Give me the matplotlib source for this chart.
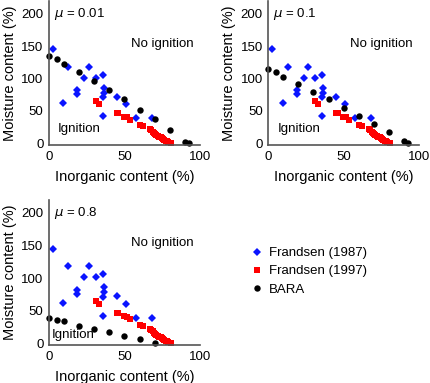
import numpy as np
import matplotlib
matplotlib.use('Agg')
import matplotlib.pyplot as plt

plt.rcParams['font.family'] = ['Liberation Sans', 'DejaVu Sans']

# Frandsen (1987) - same in every panel
f87_x = [2.4, 12.8, 26.5, 23.4, 31.3, 35.5, 18.8, 18.8, 36.4, 36.6, 35.8, 9.5, 45.3, 51.0, 35.8, 57.4, 68.4]
f87_y = [145, 118, 118, 101, 101, 106, 82, 76, 86, 78, 71, 62, 72, 60, 42, 38.5, 39]

# Frandsen (1997) - same in every panel
f97_x = [30.9, 32.9, 44.8, 46.0, 49.7, 51.7, 53.4, 60.3, 62.0, 66.9, 67.8, 68.7, 69.5, 70.2, 71.0,
         72.0, 73.0, 74.2, 75.0, 75.7, 76.5, 77.3, 78.2, 79.0, 80.6]
f97_y = [65, 60.5, 47, 47, 41, 40, 36.4, 28, 27, 22, 20, 18, 16, 14, 12.5,
         11, 10, 9, 7.5, 6, 5, 4, 2.8, 1.5, 0]

# BARA model, one curve per mu
mus = ['0.01', '0.1', '0.8']
bara_x = [
    [0, 5, 10, 20, 30, 40, 50, 60, 70, 80, 90, 93],
    [0, 5, 10, 20, 30, 40, 50, 60, 70, 80, 90, 93],
    [0, 5, 10, 20, 30, 40, 50, 60, 70],
]
bara_y = [
    [135, 130, 123, 110, 96, 82, 68, 52, 37.5, 20.5, 2.5, 0],
    [114, 110, 102.5, 91, 79.5, 68, 55, 42.5, 29.7, 17, 3.6, 0],
    [39, 36, 33.6, 27, 22, 17, 11, 5.6, 0.5],
]
ign_y = [22, 22, 13]

fig = plt.figure(figsize=(4.3, 3.83), dpi=100)
rects = [
    [0.114, 0.621, 0.351, 0.377],
    [0.624, 0.621, 0.350, 0.377],
    [0.114, 0.099, 0.351, 0.379],
]

handles = []
for i, r in enumerate(rects):
    ax = fig.add_axes(r)
    h1, = ax.plot(f87_x, f87_y, 'D', color='#0a14ff', ms=4.2, mew=0, clip_on=False)
    h2, = ax.plot(f97_x, f97_y, 's', color='#ff0000', ms=4.6, mew=0, clip_on=False)
    h3, = ax.plot(bara_x[i], bara_y[i], 'o', color='black', ms=4.6, mew=0, clip_on=False)
    handles = [h1, h2, h3]
    ax.set_xlim(0, 100)
    ax.set_ylim(-3, 220)
    ax.set_xticks([0, 50, 100])
    ax.set_yticks([0, 50, 100, 150, 200])
    ax.tick_params(length=0, labelsize=9.5, pad=4)
    for s in ['top', 'right']:
        ax.spines[s].set_visible(False)
    for s in ['left', 'bottom']:
        ax.spines[s].set_color('#555555')
        ax.spines[s].set_linewidth(1.2)
    ax.set_xlabel('Inorganic content (%)', fontsize=10.5, labelpad=5)
    ax.set_ylabel('Moisture content (%)', fontsize=10.5, labelpad=3)
    ax.text(3, 200, r'$\mu$ = ' + mus[i], fontsize=9.5, va='center', ha='left')
    ax.text(54, 154, 'No ignition', fontsize=9.5, va='center', ha='left')
    ax.text(6 if i < 2 else 2, ign_y[i], 'Ignition', fontsize=9.5, va='center', ha='left')

fig.legend(handles, ['Frandsen (1987)', 'Frandsen (1997)', 'BARA'],
           loc='upper left', bbox_to_anchor=(0.585, 0.355), frameon=False,
           fontsize=9.5, handlelength=0.8, handletextpad=0.5, labelspacing=0.45,
           borderpad=0, borderaxespad=0)

fig.savefig('out.png', dpi=100)
